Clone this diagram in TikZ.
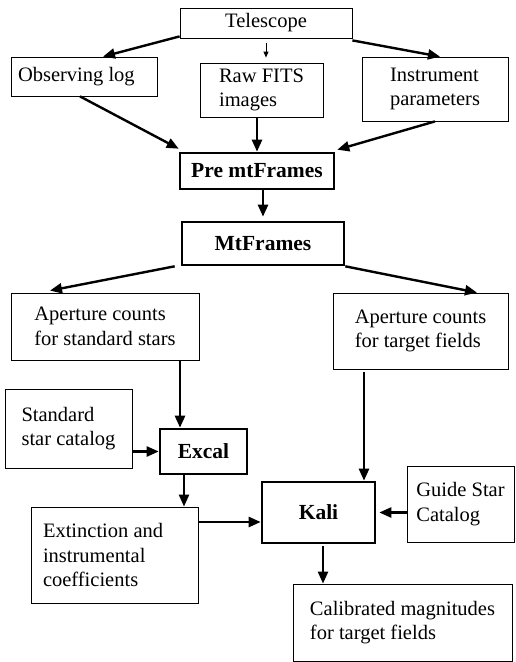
\documentclass[tikz,border=0pt]{standalone}
\usepackage{fontspec}
\setmainfont{Liberation Serif}
\usepackage{tikz}
\usetikzlibrary{arrows.meta, positioning, calc}

\begin{document}
\begin{tikzpicture}[
        x=1pt, y=-1pt,
        box/.style={draw, line width=0.8pt, align=left, inner sep=0pt,
                    font=\fontsize{20.5}{24.6}\selectfont},
        stage/.style={draw, line width=2.6pt, align=center, inner sep=0pt,
                      font=\fontsize{21.5}{25}\selectfont\bfseries},
        flow/.style={-{Triangle[length=12pt, width=10pt]}, line width=2.4pt},
        thinflow/.style={-{Triangle[length=6pt, width=5pt]}, line width=0.9pt},
      ]
        \useasboundingbox (0, 0) rectangle (515, 662);

        % sources
        \node[box, align=flush left, inner xsep=7pt, text width=132, minimum height=39] (obslog)
          at (84, 76.5) {Observing log};
        \node[box, minimum width=172, minimum height=30] (tel) at (266, 23) {Telescope};
        \node[box, minimum width=123, minimum height=54] (raw) at (261.5, 90) {Raw FITS\\images};
        \node[box, minimum width=146, minimum height=64] (inst) at (435, 89) {Instrument\\parameters};

        % processing stages
        \node[stage, minimum width=154, minimum height=36] (pre) at (257, 171) {Pre mtFrames};
        \node[stage, minimum width=162, minimum height=43] (mt) at (263, 243.5) {MtFrames};

        \node[box, minimum width=188, minimum height=67] (apstd) at (105, 326.5)
          {Aperture counts\\for standard stars};
        \node[box, minimum width=175, minimum height=76] (aptgt) at (420.5, 331)
          {Aperture counts\\for target fields};

        \node[box, minimum width=127, minimum height=79] (stdcat) at (68.5, 428.5)
          {Standard\\star catalog};
        \node[stage, minimum width=87, minimum height=45] (excal) at (203.5, 451.5) {Excal};

        \node[box, align=flush left, inner xsep=12pt, text width=143, minimum height=96] (ext)
          at (114.5, 555) {Extinction and\\instrumental\\coefficients};
        \node[stage, minimum width=113, minimum height=61] (kali) at (318.5, 512.5) {Kali};
        \node[box, minimum width=107, minimum height=76] (guide) at (460.5, 504)
          {Guide Star\\Catalog};

        \node[box, minimum width=219, minimum height=77] (calib) at (402.5, 622.5)
          {Calibrated magnitudes\\for target fields};

        % connector ends
        \coordinate (excal in) at ([xshift=-23.5pt]excal.north);
        \coordinate (excal out) at ([xshift=-19.5pt]excal.south);
        \coordinate (kali top) at ([xshift=45.5pt]kali.north);
        \coordinate (kali left) at ([yshift=-9.5pt]kali.west);
        \coordinate (kali out) at ([xshift=4.5pt]kali.south);

        % connectors
        \draw[flow] ([yshift=2pt]tel.south west) -- ([xshift=19pt]obslog.north);
        \draw[thinflow, shorten <=5pt, shorten >=5pt] (tel.south) -- (tel.south |- raw.north);
        \draw[flow] ([yshift=-2pt]tel.south east) -- ([xshift=5pt]inst.north);

        \draw[flow] ([xshift=-4pt]obslog.south) -- ([yshift=3pt]pre.north west);
        \draw[flow] (pre.north |- raw.south) -- (pre.north);
        \draw[flow] (inst.south) -- ([xshift=2pt,yshift=2pt]pre.north east);

        \draw[flow, shorten >=4pt] (mt.north |- pre.south) -- (mt.north);

        \draw[flow] ([xshift=-6pt]mt.south west) -- ([xshift=-55pt,yshift=2pt]apstd.north);
        \draw[flow] (mt.south east) -- ([xshift=56.5pt]aptgt.north);

        \draw[flow] (excal in |- apstd.south) -- (excal in);
        \draw[flow, shorten <=3pt] (kali top |- aptgt.south) -- (kali top);

        \draw[flow] (excal.west -| stdcat.east) -- (excal.west);
        \draw[flow] (excal out) -- (excal out |- ext.north);

        \draw[flow] (kali left -| ext.east) -- (kali left);
        \draw[flow, shorten >=3pt] (kali.east -| guide.west) -- (kali.east);
        \draw[flow, shorten <=2pt] (kali out) -- (kali out |- calib.north);
      \end{tikzpicture}
\end{document}
